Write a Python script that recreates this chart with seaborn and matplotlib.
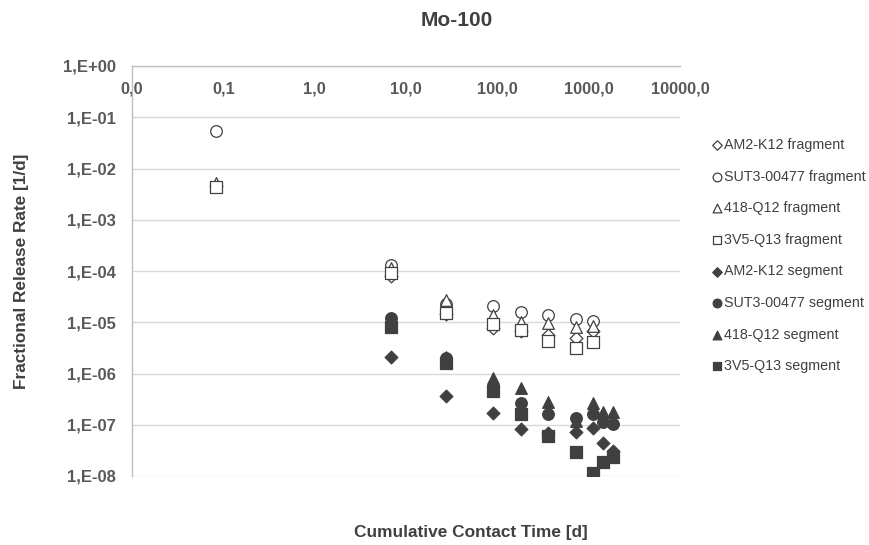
import matplotlib
matplotlib.use("Agg")
import matplotlib.pyplot as plt
import matplotlib.ticker as mticker
import numpy as np
import pandas as pd
import seaborn as sns

# Contact times [d]
t_fragment = [0.083, 6.9, 27.5, 90, 182, 360, 730, 1120]
t_segment = [6.9, 27.5, 90, 182, 360, 730, 1120, 1450, 1860]

# Fractional release rates [1/d] - fragments (hollow markers)
am2_fragment = [4.5e-3, 8.1e-5, 1.45e-5, 7.8e-6, 6.6e-6, 5.7e-6, 5.0e-6, 6.8e-6]
sut3_fragment = [5.5e-2, 1.32e-4, 2.3e-5, 2.1e-5, 1.6e-5, 1.4e-5, 1.17e-5, 1.07e-5]
q418_fragment = [5.3e-3, 1.15e-4, 2.7e-5, 1.4e-5, 1.0e-5, 9.8e-6, 8.2e-6, 8.6e-6]
v35_fragment = [4.4e-3, 9.2e-5, 1.5e-5, 9.3e-6, 7.1e-6, 4.4e-6, 3.2e-6, 4.2e-6]

# Fractional release rates [1/d] - segments (filled markers)
am2_segment = [2.1e-6, 3.7e-7, 1.7e-7, 8.4e-8, 6.9e-8, 7.1e-8, 8.7e-8, 4.5e-8, 3.1e-8]
sut3_segment = [1.2e-5, 2.0e-6, 5.5e-7, 2.6e-7, 1.6e-7, 1.35e-7, 1.6e-7, 1.15e-7, 1.05e-7]
q418_segment = [9.5e-6, 2.1e-6, 8.0e-7, 5.3e-7, 2.8e-7, 1.2e-7, 2.7e-7, 1.8e-7, 1.8e-7]
v35_segment = [8.2e-6, 1.6e-6, 4.5e-7, 1.65e-7, 5.9e-8, 2.9e-8, 1.17e-8, 1.9e-8, 2.4e-8]

series_names = [
    "AM2-K12 fragment", "SUT3-00477 fragment", "418-Q12 fragment", "3V5-Q13 fragment",
    "AM2-K12 segment", "SUT3-00477 segment", "418-Q12 segment", "3V5-Q13 segment",
]
series_values = [am2_fragment, sut3_fragment, q418_fragment, v35_fragment,
                 am2_segment, sut3_segment, q418_segment, v35_segment]
series_times = [t_fragment] * 4 + [t_segment] * 4

x_ticks = [0.01, 0.1, 1, 10, 100, 1000, 10000]
x_tick_labels = ["0,0", "0,1", "1,0", "10,0", "100,0", "1000,0", "10000,0"]
y_ticks = [1e0, 1e-1, 1e-2, 1e-3, 1e-4, 1e-5, 1e-6, 1e-7, 1e-8]
y_tick_labels = ["1,E+00", "1,E-01", "1,E-02", "1,E-03", "1,E-04",
                 "1,E-05", "1,E-06", "1,E-07", "1,E-08"]

frames = []
for name, times, vals in zip(series_names, series_times, series_values):
    frames.append(pd.DataFrame({"time": times, "rate": vals, "series": name}))
df = pd.concat(frames, ignore_index=True)

sns.set_theme(style="white")
plt.rcParams["font.family"] = ["Liberation Sans", "DejaVu Sans"]

text_col = "#595959"
dark = "#404040"
marker_shapes = ["D", "o", "^", "s", "D", "o", "^", "s"]
marker_sizes = [42, 70, 70, 64, 42, 70, 70, 64]

fig = plt.figure(figsize=(8.69, 5.45), dpi=100)
ax = fig.add_axes([132 / 869, 1 - 476 / 545, (680 - 132) / 869, (476 - 66) / 545])

for i, name in enumerate(series_names):
    sub = df[df["series"] == name]
    hollow = "fragment" in name
    sns.scatterplot(
        data=sub, x="time", y="rate", ax=ax,
        marker=marker_shapes[i], s=marker_sizes[i],
        facecolor="white" if hollow else dark,
        edgecolor=dark, linewidth=0.9,
        label=name, zorder=3 + i,
    )

ax.set_xscale("log")
ax.set_yscale("log")
ax.set_xlim(0.01, 10000)
ax.set_ylim(1e-8, 1e0)

ax.set_xticks(x_ticks)
ax.set_xticklabels(x_tick_labels)
ax.set_yticks(y_ticks)
ax.set_yticklabels(y_tick_labels)
ax.xaxis.set_minor_locator(mticker.NullLocator())
ax.yaxis.set_minor_locator(mticker.NullLocator())

ax.tick_params(axis="x", which="both", length=0, top=False, bottom=False,
               labeltop=True, labelbottom=False, pad=-22,
               labelsize=11.8, labelcolor=text_col)
ax.tick_params(axis="y", which="both", length=0, pad=11.5,
               labelsize=12, labelcolor=text_col)
for lab in ax.get_xticklabels() + ax.get_yticklabels():
    lab.set_fontweight("bold")

ax.grid(axis="y", color="#d9d9d9", linewidth=1.0)
ax.grid(axis="x", visible=False)
ax.set_axisbelow(True)

for side in ["right", "bottom"]:
    ax.spines[side].set_visible(False)
for side in ["top", "left"]:
    ax.spines[side].set_color("#bfbfbf")
    ax.spines[side].set_linewidth(1.0)

ax.set_xlabel("")
ax.set_ylabel("")

fig.text(457 / 869, 1 - 21 / 545, "Mo-100", ha="center", va="center",
         fontsize=15, fontweight="bold", color=dark)
fig.text(471 / 869, 1 - 533 / 545, "Cumulative Contact Time [d]", ha="center",
         va="center", fontsize=12.4, fontweight="bold", color=dark)
fig.text(22 / 869, 1 - 271 / 545, "Fractional Release Rate [1/d]", ha="center",
         va="center", rotation=90, fontsize=12.4, fontweight="bold", color=dark)

leg = ax.legend(
    loc="upper left", bbox_to_anchor=(712 / 869, 1 - 138 / 545),
    bbox_transform=fig.transFigure, frameon=False, fontsize=10.3,
    labelspacing=1.23, handlelength=0.7, handletextpad=0.15,
    borderaxespad=0, borderpad=0, markerscale=0.75,
)
for txt in leg.get_texts():
    txt.set_color(dark)

fig.savefig("out.png", dpi=100)
